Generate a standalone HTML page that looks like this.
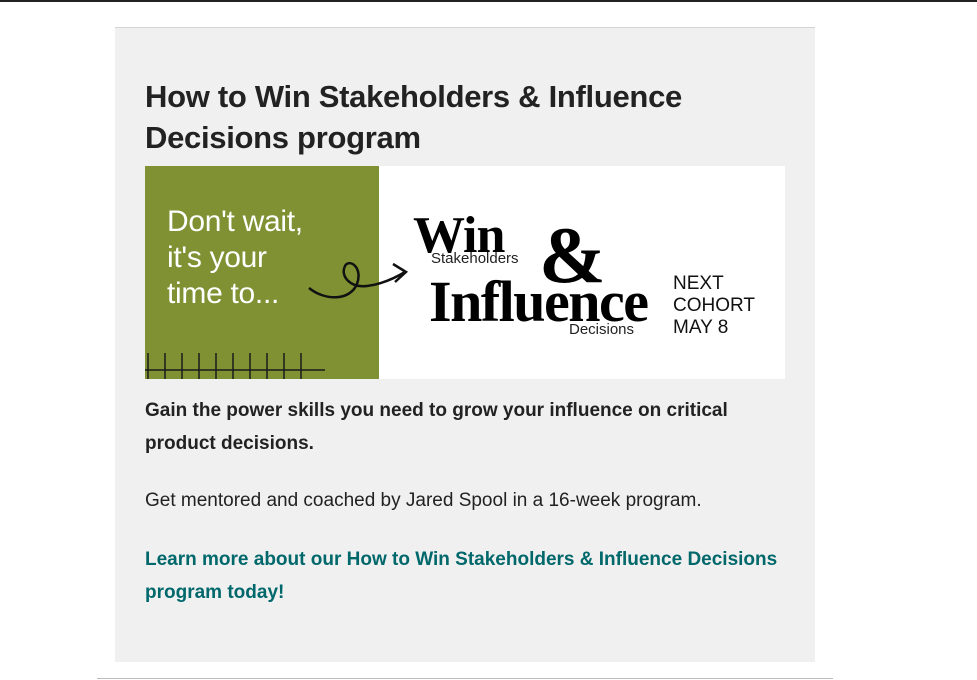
<!DOCTYPE html>
<html><head><meta charset="utf-8"><style>
body{margin:0;width:977px;height:680px;background:#fff;position:relative;overflow:hidden;font-family:"Liberation Sans",sans-serif;}
.topline{position:absolute;left:0;top:0;width:977px;height:2px;background:#222;}
.card{position:absolute;left:115px;top:27px;width:700px;height:634px;background:#f0f0f0;border-top:1px solid #d4d4d4;}
h2{position:absolute;left:145px;top:76px;margin:0;font-size:31px;line-height:41px;font-weight:bold;color:#222;width:620px;letter-spacing:-0.3px}
.banner{position:absolute;left:145px;top:166px;width:640px;height:213px;background:#fff;overflow:hidden}
.green{position:absolute;left:0;top:0;width:234px;height:213px;background:#7f9133}
.dont{position:absolute;left:22px;top:38px;color:#fff;font-size:30px;line-height:36px;letter-spacing:-0.3px}
.p1{position:absolute;left:145px;top:394px;width:640px;font-size:19px;line-height:33px;font-weight:bold;color:#222}
.p2{position:absolute;left:145px;top:484px;font-size:19px;line-height:33px;color:#222}
.link{position:absolute;left:145px;top:543px;width:660px;font-size:19px;line-height:33px;font-weight:bold;color:#00686b;text-decoration:none}
.bottom{position:absolute;left:97px;top:678px;width:736px;height:1px;background:#bbb}
</style></head><body>
<div class="topline"></div>
<div class="card"></div>
<h2>How to Win Stakeholders &amp; Influence Decisions program</h2>
<div class="banner">
 <div class="green">
  <div class="dont">Don't wait,<br>it's your<br>time to...</div>
  <svg width="234" height="213" style="position:absolute;left:0;top:0">
   <line x1="0" y1="204" x2="180" y2="204" stroke="#1a1a1a" stroke-width="1.5"/>
   <g stroke="#1a1a1a" stroke-width="1.5">
   <line x1="3" y1="187" x2="3" y2="213"/><line x1="20" y1="187" x2="20" y2="213"/><line x1="37" y1="187" x2="37" y2="213"/><line x1="54" y1="187" x2="54" y2="213"/><line x1="71" y1="187" x2="71" y2="213"/><line x1="88" y1="187" x2="88" y2="213"/><line x1="105" y1="187" x2="105" y2="213"/><line x1="122" y1="187" x2="122" y2="213"/><line x1="139" y1="187" x2="139" y2="213"/><line x1="156" y1="187" x2="156" y2="213"/></g>
  </svg>
 </div>
 <svg width="640" height="213" style="position:absolute;left:0;top:0">
  <path d="M164 122 C180 135 205 135 212 118 C218 102 205 92 200 100 C195 110 205 122 222 120 C238 118 250 112 260 106" fill="none" stroke="#111" stroke-width="2.5"/>
  <path d="M248 98 L261 106 L250 116" fill="none" stroke="#111" stroke-width="2.5"/>
 </svg>
 <div style="position:absolute;left:268px;top:45px;font-family:'Liberation Serif',serif;font-weight:bold;font-size:52px;line-height:50px;color:#000;letter-spacing:-1px">Win</div>
 <div style="position:absolute;left:286px;top:84px;font-size:15px;color:#222">Stakeholders</div>
 <div style="position:absolute;left:394px;top:50px;font-family:'Liberation Serif',serif;font-weight:bold;font-size:80px;line-height:80px;color:#000">&amp;</div>
 <div style="position:absolute;left:284px;top:110px;font-family:'Liberation Serif',serif;font-weight:bold;font-size:58px;line-height:52px;color:#000;letter-spacing:-1.5px">Influence</div>
 <div style="position:absolute;left:424px;top:155px;font-size:15px;color:#222">Decisions</div>
 <div style="position:absolute;left:528px;top:107px;font-size:19px;line-height:22px;color:#111">NEXT<br>COHORT<br>MAY 8</div>
</div>
<div class="p1">Gain the power skills you need to grow your influence on critical product decisions.</div>
<div class="p2">Get mentored and coached by Jared Spool in a 16-week program.</div>
<a class="link" href="#">Learn more about our How to Win Stakeholders &amp; Influence Decisions program today!</a>
<div class="bottom"></div>
</body></html>
